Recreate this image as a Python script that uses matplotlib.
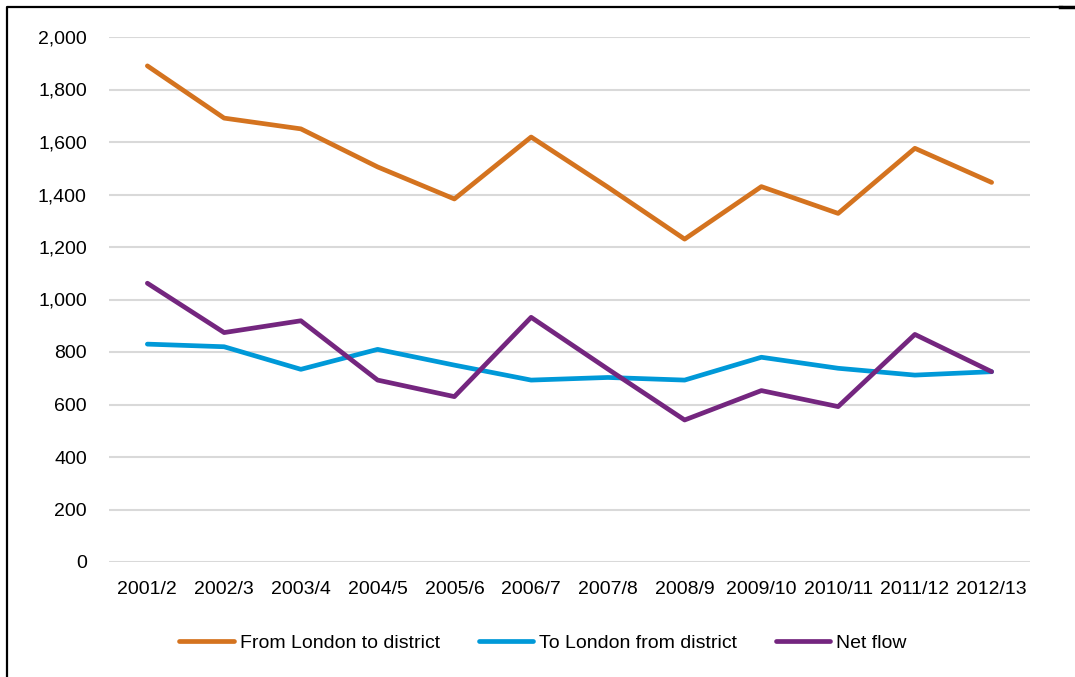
import matplotlib
matplotlib.use("Agg")
import matplotlib.pyplot as plt
from matplotlib.lines import Line2D

years = ["2001/2", "2002/3", "2003/4", "2004/5", "2005/6", "2006/7",
         "2007/8", "2008/9", "2009/10", "2010/11", "2011/12", "2012/13"]
from_london = [1890, 1691, 1650, 1505, 1383, 1619, 1428, 1230, 1430, 1328, 1576, 1446]
to_london = [830, 820, 734, 810, 750, 693, 703, 693, 780, 738, 712, 725]
net_flow = [1062, 874, 919, 693, 630, 932, 735, 541, 653, 592, 867, 725]
yticks = [0, 200, 400, 600, 800, 1000, 1200, 1400, 1600, 1800, 2000]

plt.rcParams['font.family'] = ['Liberation Sans', 'DejaVu Sans']

W, H = 1075, 677
fig = plt.figure(figsize=(W / 100, H / 100), dpi=100)
ax = fig.add_axes([109 / W, 1 - 562 / H, (1030 - 109) / W, (562 - 37) / H])

x = list(range(len(years)))
style = dict(lw=3.4, solid_capstyle="round", solid_joinstyle="round", zorder=3)
ax.plot(x, from_london, color="#D4731F", label="From London to district", **style)
ax.plot(x, to_london, color="#0099D8", label="To London from district", **style)
ax.plot(x, net_flow, color="#74267F", label="Net flow", **style)

ax.set_xlim(-0.5, len(years) - 0.5)
ax.set_ylim(0, 2000)
ax.set_yticks(yticks)
ax.set_yticklabels([f"{v:,}" for v in yticks])
ax.set_xticks(x)
ax.set_xticklabels(years)
ax.yaxis.grid(True, color="#D9D9D9", lw=1.5)
ax.set_axisbelow(True)
for s in ax.spines.values():
    s.set_visible(False)
ax.tick_params(axis="both", length=0, labelsize=14, colors="#000000")
ax.tick_params(axis="y", pad=16)
ax.tick_params(axis="x", pad=14)

fig.legend(loc="center", bbox_to_anchor=(543 / W, 1 - 643 / H), ncol=3, frameon=False,
           fontsize=14, handlelength=2.8, handletextpad=0.3, columnspacing=2.0)

# outer frame (partially cut off on the right and bottom)
frame = Line2D([7 / W, 7 / W, 1062 / W], [-0.01, 1 - 6.5 / H, 1 - 6.5 / H],
               transform=fig.transFigure, color="black", lw=1.6)
fig.add_artist(frame)
fig.add_artist(Line2D([1060 / W, 1.0], [1 - 7 / H, 1 - 7 / H], transform=fig.transFigure,
                      color="black", lw=2.5))

fig.savefig("out.png", dpi=100)
